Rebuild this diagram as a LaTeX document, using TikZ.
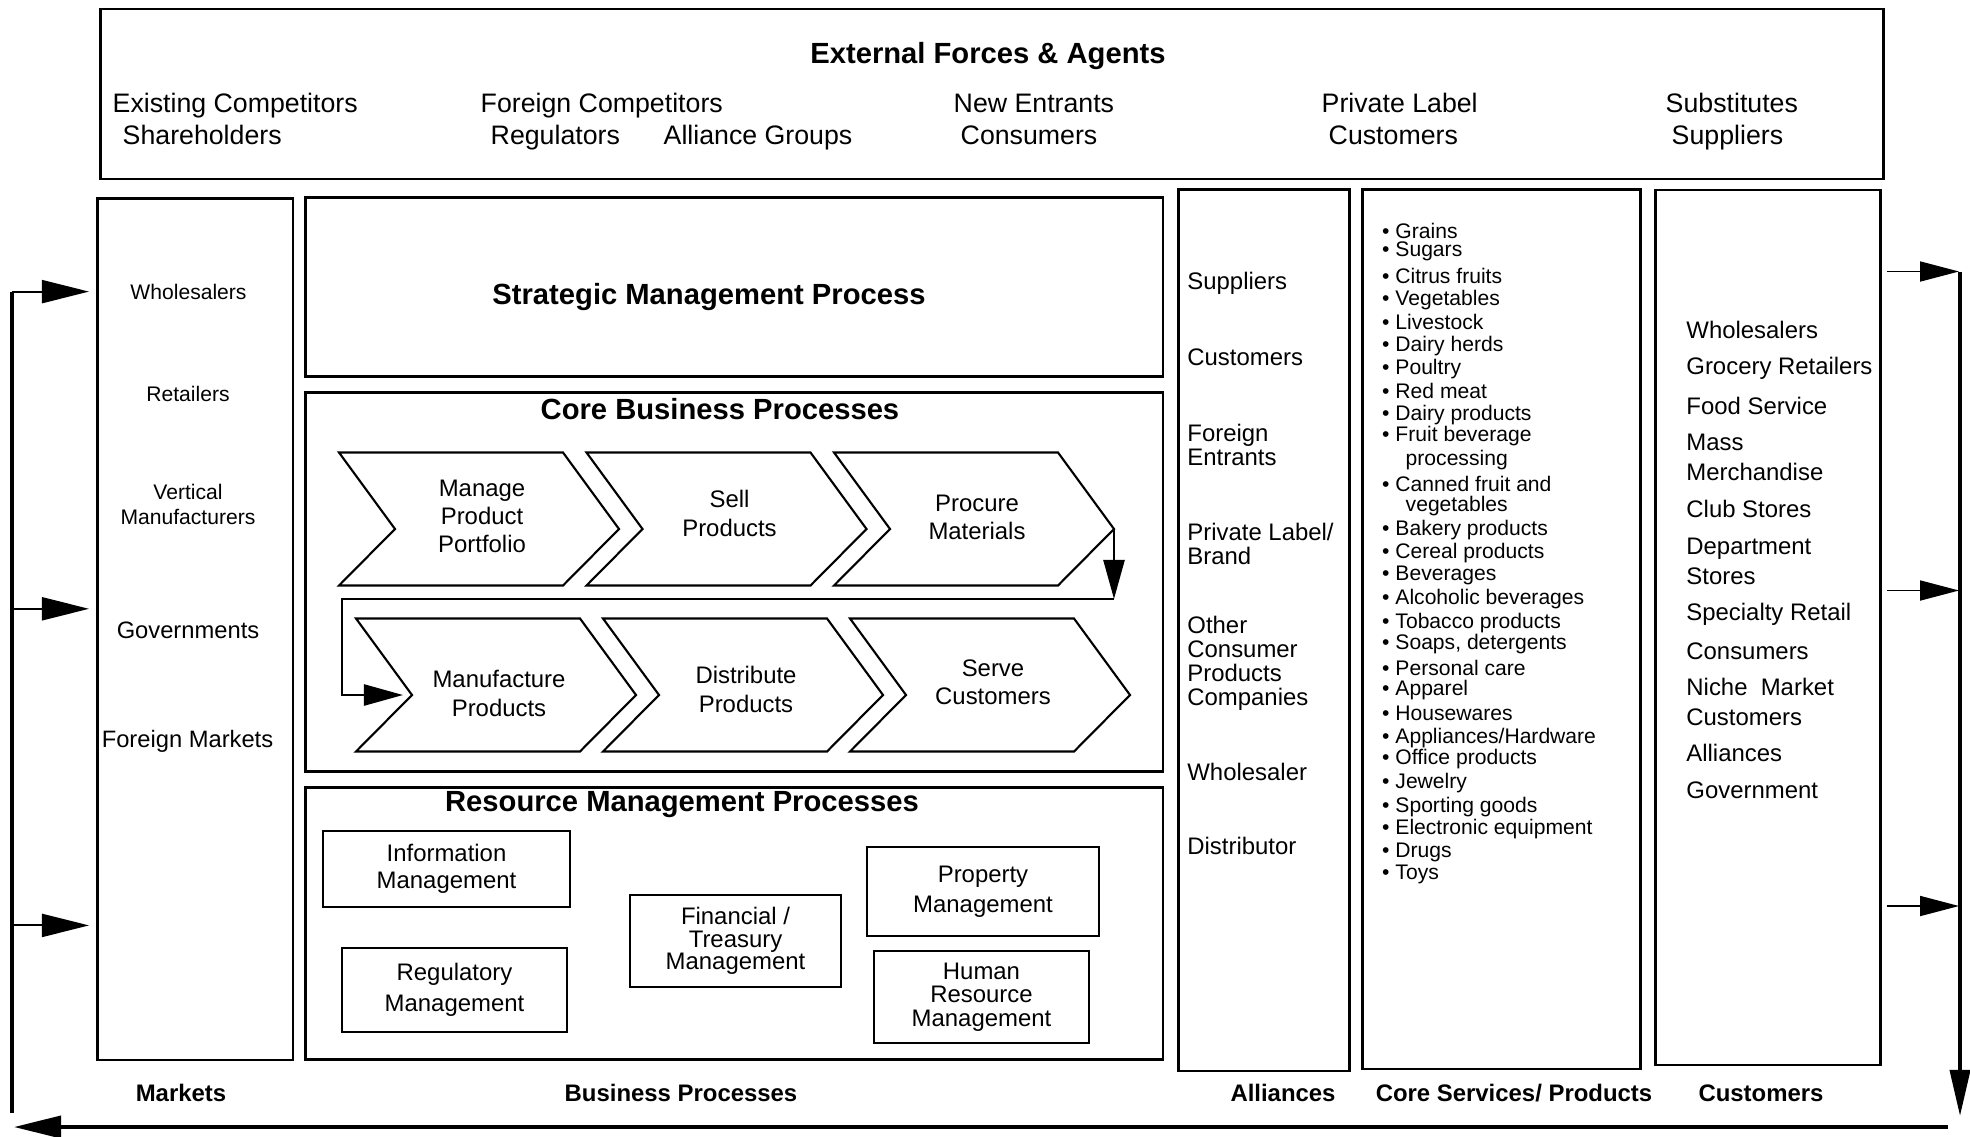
\documentclass[tikz,border=0pt]{standalone}
\usepackage{fontspec}
\setmainfont{Liberation Sans}
\usetikzlibrary{arrows.meta}
\tikzset{
panel/.style={draw, line width=0.75pt, anchor=north west, inner sep=0pt},
subbox/.style={draw, line width=0.75pt, inner sep=0pt, align=center},
chev/.style={draw, line width=0.6pt, line join=miter},
steptext/.style={inner sep=0pt, align=center, font=\fontsize{6.8}{8}\selectfont},
heading/.style={inner sep=0pt, font=\bfseries\fontsize{8.3}{9}\selectfont},
caption/.style={inner sep=0pt, font=\bfseries\fontsize{6.8}{7}\selectfont},
force/.style={inner sep=0pt, anchor=base west, font=\fontsize{7.6}{8}\selectfont},
ally/.style={inner sep=0pt, anchor=west, align=left, font=\fontsize{6.8}{6.8}\selectfont},
cust/.style={inner sep=0pt, anchor=west, align=left, font=\fontsize{6.8}{8.5}\selectfont},
market/.style={inner sep=0pt, align=center, font=\fontsize{6}{7.1}\selectfont},
good/.style={inner sep=0pt, anchor=west, font=\fontsize{6}{6}\selectfont},
feed/.style={line width=0.6pt, -{Triangle[length=0.47cm,width=0.23cm]}},
feedR/.style={line width=0.5pt, -{Triangle[length=0.39cm,width=0.2cm]}},
coreflow/.style={line width=0.7pt},
cycleline/.style={line width=1.1pt},
}
% chevron: name, left x, top y, text offset, text
\newcommand{\chevron}[5]{%
  \draw[chev] (#2,#3) -- ++(224,0) -- ++(56,76.5) -- ++(-56,56.5) -- ++(-224,0) -- ++(56,-56.5) -- cycle;
  \coordinate (#1-notch) at (#2+56,#3+76.5);
  \coordinate (#1-tip) at (#2+280,#3+76.5);
  \node[steptext] (#1) at (#2+143,#3+#4) {#5};
}

\begin{document}
\begin{tikzpicture}[x=0.01cm, y=-0.01cm]
\useasboundingbox (0,0) rectangle (1970,1136);

% external forces
\node[panel, minimum width=17.82cm, minimum height=1.70cm] (forces) at (99,7.5) {};
\node[heading, anchor=base] (forcestitle) at (988,63) {External Forces \& Agents};
\foreach \x/\y/\t [count=\i] in {112/112/Existing Competitors, 122/144/Shareholders,
    480/112/Foreign Competitors, 490/144/Regulators, 663/144/Alliance Groups,
    953/112/New Entrants, 960/144/Consumers, 1321/112/Private Label, 1328/144/Customers,
    1665/112/Substitutes, 1671/144/Suppliers}
  \node[force] (force\i) at (\x,\y) {\t};

% columns
\node[panel, minimum width=1.955cm, minimum height=8.61cm] (markets) at (96,197) {};
\node[panel, minimum width=8.57cm, minimum height=1.79cm] (strategic) at (304,196) {};
\node[panel, minimum width=8.57cm, minimum height=3.79cm] (core) at (304,391) {};
\node[panel, minimum width=8.57cm, minimum height=2.72cm] (resource) at (304,786) {};
\node[panel, minimum width=1.71cm, minimum height=8.81cm] (alliances) at (1177,188) {};
\node[panel, minimum width=2.78cm, minimum height=8.79cm] (services) at (1361,188) {};
\node[panel, minimum width=2.25cm, minimum height=8.745cm] (customers) at (1654,188.5) {};

% markets
\node[market] (mk1) at (188.5,291.6) {Wholesalers};
\node[market] (mk2) at (188,393.5) {Retailers};
\node[market] (mk3) at (188,504.8) {Vertical\\Manufacturers};
\node[market, font=\fontsize{6.75}{7.5}\selectfont] (mk4) at (188,630) {Governments};
\node[market, font=\fontsize{6.75}{7.5}\selectfont] (mk5) at (187.5,741) {Foreign Markets};

% business processes
\node[heading] (strategictitle) at (709,297) {Strategic Management Process};
\node[heading] (coretitle) at (720,409) {Core Business Processes};
\node[heading] (resourcetitle) at (682,805) {Resource Management Processes};

\chevron{manage}{339}{452.5}{64}{Manage\\Product\\Portfolio}
\chevron{sell}{586.5}{452.5}{61}{Sell\\Products}
\chevron{procure}{834}{452.5}{65}{Procure\\Materials}
\chevron{manufacture}{356}{618.5}{75}{Manufacture\\Products}
\chevron{distribute}{603}{618.5}{71}{Distribute\\Products}
\chevron{serve}{850}{618.5}{63.5}{Serve\\Customers}

\coordinate (turn) at (1114,599);
\coordinate (back) at (342,599);
\draw[coreflow, -{Triangle[length=0.39cm,width=0.21cm]}] (procure-tip) -- (turn);
\draw[coreflow, -{Triangle[length=0.39cm,width=0.21cm]}] (turn) -- (back) |- ([xshift=-0.09cm]manufacture-notch);

\node[subbox, minimum width=2.47cm, minimum height=0.76cm, font=\fontsize{6.8}{7.7}\selectfont] (info) at (446.5,869) {Information\\Management};
\node[subbox, minimum width=2.25cm, minimum height=0.84cm, font=\fontsize{6.8}{8.8}\selectfont] (regulatory) at (454.5,990) {Regulatory\\Management};
\node[subbox, minimum width=2.11cm, minimum height=0.92cm, font=\fontsize{6.8}{6.4}\selectfont] (treasury) at (735.5,941) {Financial /\\Treasury\\Management};
\node[subbox, minimum width=2.32cm, minimum height=0.89cm, font=\fontsize{6.8}{8.5}\selectfont] (property) at (983,891.5) {Property\\Management};
\node[subbox, minimum width=2.15cm, minimum height=0.92cm, font=\fontsize{6.8}{6.7}\selectfont] (hr) at (981.5,997) {Human\\Resource\\Management};

% alliances
\foreach \y/\t [count=\i] in {283/Suppliers, 357.7/Customers, 445/{Foreign\\Entrants},
    543.7/{Private Label/\\Brand}, 663.5/{Other\\Consumer\\Products\\Companies},
    771.7/Wholesaler, 845.7/Distributor}
  \node[ally] (ally\i) at (1186.7,\y) {\t};

% core services / products
\foreach \y/\t [count=\i] in {230.7/Grains, 251.7/Sugars, 275.7/Citrus fruits, 300/Vegetables,
    321.7/Livestock, 345.7/Dairy herds, 369.3/Poultry, 390.7/Red meat, 414.7/Dairy products,
    436/Fruit beverage, 484/Canned fruit and, 530/Bakery products, 553.3/Cereal products,
    575/Beverages, 599/Alcoholic beverages, 622.7/Tobacco products, 644.3/{Soaps, detergents},
    668/Personal care, 690/Apparel, 713.3/Housewares, 737.7/{Appliances/Hardware},
    759/Office products, 782.7/Jewelry, 806.7/Sporting goods, 829/Electronic equipment,
    852.7/Drugs, 874/Toys}
  \node[good] (good\i) at (1381.5,\y) {\textbullet\ \t};
\node[good] (goodcont1) at (1405,460) {processing};
\node[good] (goodcont2) at (1405,505.7) {vegetables};

% customers
\foreach \y/\t [count=\i] in {329.5/Wholesalers, 368/Grocery Retailers, 405.7/Food Service,
    457.5/{Mass\\Merchandise}, 509.4/Club Stores, 561.2/{Department\\Stores},
    614.3/Specialty Retail, 651/Consumers, 701.8/{Niche\ \ Market\\Customers},
    753.4/Alliances, 790/Government}
  \node[cust] (cust\i) at (1685.7,\y) {\t};

% column captions
\node[caption] (capmarkets) at (181,1093) {Markets};
\node[caption] (capbusiness) at (681,1093) {Business Processes};
\node[caption] (capalliances) at (1283,1093) {Alliances};
\node[caption] (capservices) at (1514,1093) {Core Services/ Products};
\node[caption] (capcustomers) at (1761,1093) {Customers};

% feedback loop
\coordinate (rtop) at (1960,271.5);
\coordinate (rbot) at (1960,1116);
\coordinate (bright) at (1948,1127);
\coordinate (bleft) at (14,1127);
\coordinate (lbot) at (11.7,1113);
\coordinate (ltop) at (11.7,291.6);
\draw[cycleline, -{Triangle[length=0.46cm,width=0.2cm]}] (rtop) -- (rbot);
\draw[cycleline, -{Triangle[length=0.47cm,width=0.22cm]}] (bright) -- (bleft);
\draw[cycleline] (lbot) -- (ltop);
\foreach \y [count=\i] in {291.6, 608.8, 925.4} {
  \coordinate (lin\i) at (11.7,\y);
  \coordinate (lout\i) at (89,\y);
  \draw[feed] (lin\i) -- (lout\i);
}
\foreach \y [count=\i] in {271.5, 590.5, 906} {
  \coordinate (rin\i) at (1886.7,\y);
  \coordinate (rout\i) at (1959,\y);
  \draw[feedR] (rin\i) -- (rout\i);
}
\end{tikzpicture}
\end{document}
